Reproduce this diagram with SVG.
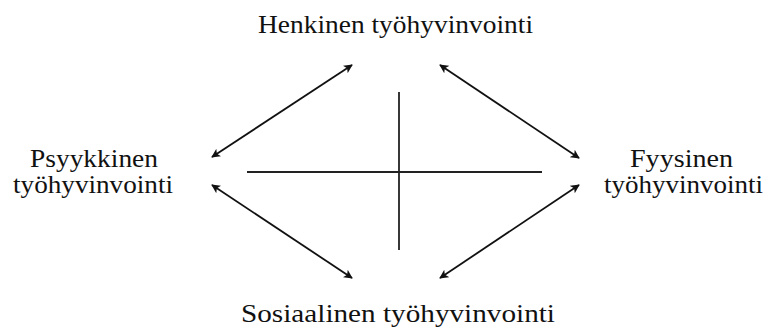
<svg xmlns="http://www.w3.org/2000/svg" width="768" height="334" viewBox="0 0 768 334">
<style>
text{font-family:"Liberation Serif","Times New Roman",serif;font-size:25px;fill:#111}
.c line{stroke:#111;stroke-width:1.8}
.ax line{stroke:#222;stroke-width:1.8}
</style>
<defs>
<marker id="ah" viewBox="0 0 10 10" refX="9" refY="5" markerWidth="5" markerHeight="5" orient="auto-start-reverse" markerUnits="strokeWidth">
<path d="M0,0 L10,5 L0,10 L2.5,5 Z" fill="#111"/>
</marker>
</defs>
<rect width="768" height="334" fill="#fff"/>
<g id="henkinen"><text x="258" y="33" textLength="275" lengthAdjust="spacingAndGlyphs">Henkinen työhyvinvointi</text></g>
<g id="psyykkinen"><text x="30" y="167" textLength="128" lengthAdjust="spacingAndGlyphs">Psyykkinen</text><text x="13" y="193" textLength="160" lengthAdjust="spacingAndGlyphs">työhyvinvointi</text></g>
<g id="fyysinen"><text x="630" y="167" textLength="103" lengthAdjust="spacingAndGlyphs">Fyysinen</text><text x="604" y="193" textLength="159" lengthAdjust="spacingAndGlyphs">työhyvinvointi</text></g>
<g id="sosiaalinen"><text x="241" y="322" textLength="314" lengthAdjust="spacingAndGlyphs">Sosiaalinen työhyvinvointi</text></g>
<g id="axes" class="ax">
<line x1="247" y1="172" x2="542" y2="172"/>
<line x1="399" y1="92" x2="399" y2="250"/>
</g>
<g id="connectors" class="c">
<line x1="212" y1="157" x2="352" y2="65" marker-start="url(#ah)" marker-end="url(#ah)"/>
<line x1="440" y1="65" x2="579" y2="158" marker-start="url(#ah)" marker-end="url(#ah)"/>
<line x1="212" y1="185" x2="352" y2="278" marker-start="url(#ah)" marker-end="url(#ah)"/>
<line x1="440" y1="278" x2="579" y2="185" marker-start="url(#ah)" marker-end="url(#ah)"/>
</g>
</svg>
